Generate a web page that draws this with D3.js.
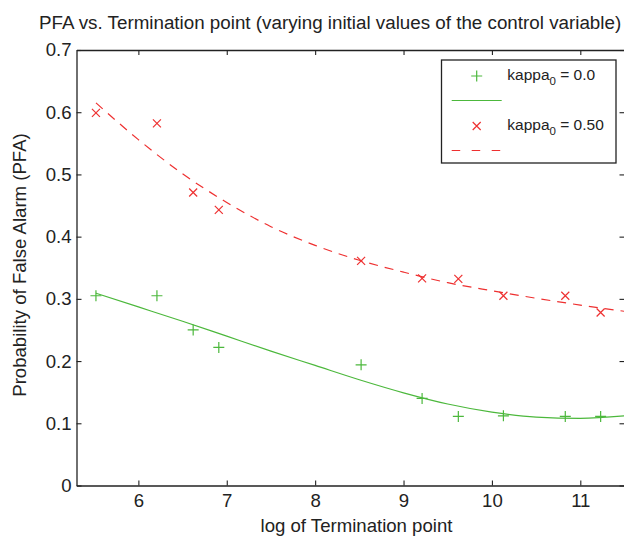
<!DOCTYPE html>
<html>
<head>
<meta charset="utf-8">
<script src="https://cdn.jsdelivr.net/npm/d3@7"></script>
<style>
  body { margin: 0; background: #fff; }
  text { font-family: "Liberation Sans", Arial, sans-serif; fill: #222; }
</style>
</head>
<body>
<svg id="mainsvg" width="624" height="536"></svg>
<script>
// data
const logT = [5.52, 6.21, 6.62, 6.91, 8.52, 9.21, 9.62, 10.13, 10.83, 11.23];
const pfaKappa0 = [0.305, 0.305, 0.250, 0.222, 0.194, 0.140, 0.111, 0.112, 0.111, 0.111];
const pfaKappa50 = [0.599, 0.582, 0.471, 0.443, 0.361, 0.333, 0.332, 0.305, 0.305, 0.278];

// fitted curves
const fitX = [5.52, 6.0, 6.5, 7.0, 7.5, 8.0, 8.5, 9.0, 9.5, 10.0, 10.5, 11.0, 11.5];
const fitKappa0 = [0.309, 0.287, 0.264, 0.240, 0.216, 0.193, 0.170, 0.149, 0.131, 0.118, 0.110, 0.108, 0.112];
const fitKappa50 = [0.615, 0.556, 0.501, 0.455, 0.416, 0.386, 0.362, 0.343, 0.326, 0.313, 0.301, 0.290, 0.280];

const xTicks = [6, 7, 8, 9, 10, 11];
const yTicks = [0, 0.1, 0.2, 0.3, 0.4, 0.5, 0.6, 0.7];
const legendLabels = ['0.0', '0.50'];

const green = '#4cb83c';
const red = '#ee3030';
const fontSize = '18.6px';

const svg = d3.select('#mainsvg');
const margin = {top: 50, left: 76.5, right: 624.5, bottom: 485.5};

const xScale = d3.scaleLinear().domain([5.3, 11.5]).range([margin.left, margin.right]);
const yScale = d3.scaleLinear().domain([0, 0.7]).range([margin.bottom, margin.top]);

// title
svg.append('text')
    .attr('x', 39).attr('y', 28.5)
    .attr('font-size', '18.8px')
    .text('PFA vs. Termination point (varying initial values of the control variable)');

// axes (ticks point inward like matlab)
const axisG = svg.append('g');
axisG.append('g')
    .attr('transform', `translate(0, ${margin.bottom})`)
    .call(d3.axisBottom(xScale).tickValues(xTicks).tickSize(-5).tickPadding(8).tickSizeOuter(0)
        .tickFormat(d3.format('d')));
axisG.append('g')
    .attr('transform', `translate(0, ${margin.top})`)
    .call(d3.axisTop(xScale).tickValues(xTicks).tickSize(-5).tickFormat('').tickSizeOuter(0));
axisG.append('g')
    .attr('transform', `translate(${margin.left}, 0)`)
    .call(d3.axisLeft(yScale).tickValues(yTicks).tickSize(-5).tickPadding(5).tickSizeOuter(0)
        .tickFormat(d => d === 0 ? '0' : d3.format('.1f')(d)));
axisG.append('g')
    .attr('transform', `translate(${margin.right}, 0)`)
    .call(d3.axisRight(yScale).tickValues(yTicks).tickSize(-5).tickFormat('').tickSizeOuter(0));

axisG.selectAll('.domain').attr('stroke', '#222').attr('stroke-width', 1.3);
axisG.selectAll('.tick line').attr('stroke', '#222').attr('stroke-width', 1.1);
axisG.selectAll('.tick text')
    .attr('fill', '#222')
    .attr('font-size', fontSize)
    .attr('font-family', '"Liberation Sans", Arial, sans-serif');

// axis labels
svg.append('text')
    .attr('x', 356.5).attr('y', 532)
    .attr('text-anchor', 'middle')
    .attr('font-size', fontSize)
    .text('log of Termination point');

svg.append('text')
    .attr('transform', 'translate(26, 265) rotate(-90)')
    .attr('text-anchor', 'middle')
    .attr('font-size', fontSize)
    .text('Probability of False Alarm (PFA)');

// fitted lines
const line = d3.line()
    .x(d => xScale(d[0]))
    .y(d => yScale(d[1]))
    .curve(d3.curveMonotoneX);

const plot = svg.append('g');

plot.append('path')
    .datum(fitX.map((x, i) => [x, fitKappa0[i]]))
    .attr('d', line)
    .attr('fill', 'none')
    .attr('stroke', green)
    .attr('stroke-width', 1.2);

plot.append('path')
    .datum(fitX.map((x, i) => [x, fitKappa50[i]]))
    .attr('d', line)
    .attr('fill', 'none')
    .attr('stroke', red)
    .attr('stroke-width', 1.2)
    .attr('stroke-dasharray', '9,7');

// markers
const plusPath = s => `M${-s},0H${s}M0,${-s}V${s}`;
const crossPath = s => `M${-s},${-s}L${s},${s}M${-s},${s}L${s},${-s}`;

plot.selectAll('.plus')
    .data(logT.map((x, i) => [x, pfaKappa0[i]]))
    .enter().append('path')
    .attr('class', 'plus')
    .attr('transform', d => `translate(${xScale(d[0])}, ${yScale(d[1])})`)
    .attr('d', plusPath(5.5))
    .attr('stroke', green)
    .attr('stroke-width', 1.2)
    .attr('fill', 'none');

plot.selectAll('.cross')
    .data(logT.map((x, i) => [x, pfaKappa50[i]]))
    .enter().append('path')
    .attr('class', 'cross')
    .attr('transform', d => `translate(${xScale(d[0])}, ${yScale(d[1])})`)
    .attr('d', crossPath(4))
    .attr('stroke', red)
    .attr('stroke-width', 1.2)
    .attr('fill', 'none');

// legend
const legend = svg.append('g');
legend.append('rect')
    .attr('x', 441.5).attr('y', 60)
    .attr('width', 174.5).attr('height', 103)
    .attr('fill', '#fff')
    .attr('stroke', '#222')
    .attr('stroke-width', 1.3);

const entries = [
    {color: green, marker: plusPath(5.5), dash: null, label: legendLabels[0]},
    {color: red, marker: crossPath(4), dash: '8.5,11.5', label: legendLabels[1]}
];

entries.forEach((e, i) => {
    const y0 = 76 + i * 50;
    legend.append('path')
        .attr('transform', `translate(476.7, ${y0})`)
        .attr('d', e.marker)
        .attr('stroke', e.color)
        .attr('stroke-width', 1.2)
        .attr('fill', 'none');
    legend.append('line')
        .attr('x1', 451.7).attr('x2', 501.7)
        .attr('y1', y0 + 24.5).attr('y2', y0 + 24.5)
        .attr('stroke', e.color)
        .attr('stroke-width', 1.2)
        .attr('stroke-dasharray', e.dash);
    const t = legend.append('text')
        .attr('x', 507.3).attr('y', y0 + 3.5)
        .attr('font-size', '15.5px');
    t.append('tspan').text('kappa');
    t.append('tspan').attr('font-size', '11.5px').attr('dy', 5).text('0');
    t.append('tspan').attr('dy', -5).text(' = ' + e.label);
});
</script>
</body>
</html>
